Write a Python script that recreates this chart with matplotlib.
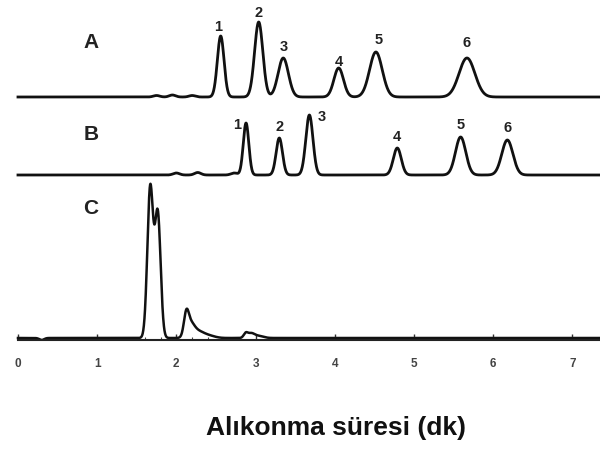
import numpy as np
import matplotlib
matplotlib.use("Agg")
import matplotlib.pyplot as plt

plt.rcParams['font.family'] = ['Liberation Sans', 'DejaVu Sans']

# ---- peak data (retention time in min, height, width sigma in min) ----
a_times = [2.56, 3.04, 3.35, 4.05, 4.52, 5.67]
a_heights = [61, 75, 39, 29, 45, 39]
a_sigmas = [0.042, 0.052, 0.065, 0.06, 0.08, 0.1]
a_small_times = [1.75, 1.95, 2.2]
a_small_heights = [1.5, 2.0, 1.5]

b_times = [2.88, 3.30, 3.68, 4.79, 5.59, 6.18]
b_heights = [52, 37, 60, 27, 38, 35]
b_sigmas = [0.035, 0.04, 0.045, 0.05, 0.065, 0.07]
b_small_times = [2.0, 2.27, 2.73]
b_small_heights = [2.0, 2.5, 2.0]

c_times = [1.67, 1.765, 2.125, 2.175, 2.27, 2.4, 2.875, 2.94, 3.04, 0.3]
c_heights = [150, 124, 20, 13, 6, 2.5, 4, 4.5, 2, -2]
c_sigmas = [0.036, 0.036, 0.03, 0.05, 0.07, 0.08, 0.025, 0.045, 0.06, 0.03]

peak_labels = ['1', '2', '3', '4', '5', '6']
a_label_times = [2.53, 3.04, 3.36, 4.05, 4.55, 5.67]
a_label_y = [313, 327, 293, 278, 300, 297]
b_label_times = [2.77, 3.30, 3.84, 4.79, 5.59, 6.18]
b_label_y = [215, 213, 223, 203, 215, 212]

trace_names = ['A', 'B', 'C']
trace_name_y = [298, 205, 132]
baselines = [243, 165, 2]

xticks = [0, 1, 2, 3, 4, 5, 6, 7]
xlabel = 'Alıkonma süresi (dk)'

t = np.linspace(0, 7.4, 4000)

def trace(base, times, heights, sigmas):
    y = np.full_like(t, float(base))
    for mu, h, s in zip(times, heights, sigmas):
        y += h * np.exp(-0.5 * ((t - mu) / s) ** 2)
    return y

ya = trace(baselines[0], a_times + a_small_times, a_heights + a_small_heights,
           a_sigmas + [0.04] * len(a_small_times))
yb = trace(baselines[1], b_times + b_small_times, b_heights + b_small_heights,
           b_sigmas + [0.04] * len(b_small_times))
yc = trace(baselines[2], c_times, c_heights, c_sigmas)

fig = plt.figure(figsize=(6, 4.5), dpi=100)
ax = fig.add_axes([0, 110 / 450, 1, 340 / 450])
ax.plot(t, ya, color='#111111', lw=2.0)
ax.plot(t, yb, color='#111111', lw=2.0)
ax.plot(t, yc, color='#111111', lw=1.8)

ax.set_xlim(-0.227, 7.35)
ax.set_ylim(0, 340)

for lab, tx, ty in zip(peak_labels, a_label_times, a_label_y):
    ax.text(tx, ty, lab, ha='center', va='center', fontsize=10.5, fontweight='bold', color='#222222')
for lab, tx, ty in zip(peak_labels, b_label_times, b_label_y):
    ax.text(tx, ty, lab, ha='center', va='center', fontsize=10.5, fontweight='bold', color='#222222')
for name, ny in zip(trace_names, trace_name_y):
    ax.text(0.92, ny, name, ha='center', va='center', fontsize=15, fontweight='bold', color='#222222')

for s in ['top', 'left', 'right']:
    ax.spines[s].set_visible(False)
ax.spines['bottom'].set_bounds(0, 7.35)
ax.spines['bottom'].set_linewidth(1.5)
ax.spines['bottom'].set_color('#222222')
ax.set_yticks([])
ax.set_xticks(xticks)
ax.set_xticklabels([str(v) for v in xticks])
ax.set_xticks(np.arange(0, 7.4, 0.2), minor=True)
ax.tick_params(axis='x', which='major', direction='in', length=4.5, width=1, pad=13,
               labelsize=8.5, labelcolor='#444444', color='#333333')
ax.tick_params(axis='x', which='minor', direction='in', length=2.5, width=0.8, color='#444444')
for lbl in ax.get_xticklabels():
    lbl.set_fontweight('bold')

fig.text(336 / 600, 1 - 435 / 450, xlabel, ha='center', va='baseline', fontsize=19,
         fontweight='bold', color='#111111')

fig.savefig('out.png', dpi=100)
